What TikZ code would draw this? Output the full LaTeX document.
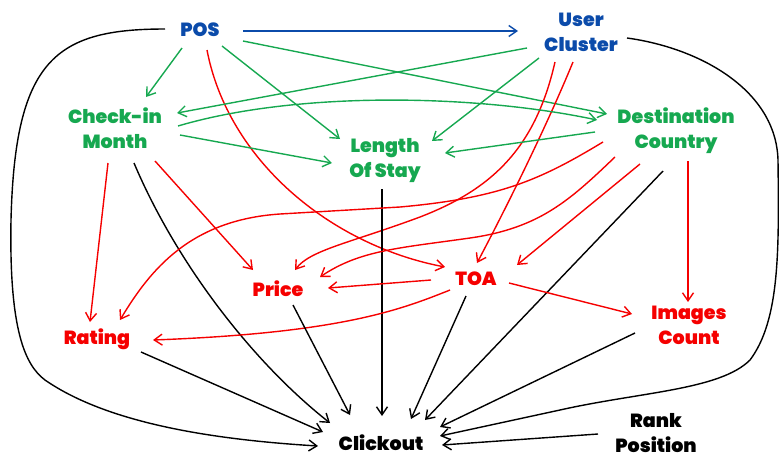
\documentclass[tikz,border=0pt]{standalone}
\usepackage{fontspec}
\setmainfont{Poppins}[BoldFont={Poppins Black}]
\usetikzlibrary{arrows.meta,calc}
\definecolor{posblue}{RGB}{11,75,170}
\definecolor{vargreen}{RGB}{22,168,80}
\definecolor{varred}{RGB}{245,0,0}
\tikzset{
  lbl/.style={font=\fontsize{19}{25}\selectfont\bfseries, align=center, inner sep=0pt},
  bluelbl/.style={lbl, text=posblue},
  greenlbl/.style={lbl, text=vargreen},
  redlbl/.style={lbl, text=varred},
  blacklbl/.style={lbl, text=black},
  link/.style={line width=1.4pt, -{Straight Barb[length=8pt,width=11pt,line width=1.4pt]}},
  bluelink/.style={link, draw=posblue},
  greenlink/.style={link, draw=vargreen},
  redlink/.style={link, draw=varred},
  blacklink/.style={link, draw=black},
}
\begin{document}
\begin{tikzpicture}[x=1pt,y=-1pt]
\useasboundingbox (0,0) rectangle (779,456);

% variables
\node[bluelbl]  (pos)    at (200,30)  {POS};
\node[bluelbl]  (uc)     at (581,32)  {User\\Cluster};
\node[greenlbl] (cim)    at (115,128) {Check-in\\Month};
\node[greenlbl] (los)    at (385,161) {Length\\Of Stay};
\node[greenlbl] (dc)     at (676,131) {Destination\\Country};
\node[redlbl]   (price)  at (278,289) {Price};
\node[redlbl]   (toa)    at (476,279) {TOA};
\node[redlbl]   (rating) at (97,339)  {Rating};
\node[redlbl]   (img)    at (689,325) {Images\\Count};
\node[blacklbl] (click)  at (381,443) {Clickout};
\node[blacklbl] (rank)   at (656,433) {Rank\\Position};

% POS
\draw[bluelink]  ($(pos)+(43,1)$) -- ($(uc)+(-63,-1)$);
\draw[greenlink] ($(pos)+(-18,18)$) -- ($(cim)+(31,-31)$);
\draw[greenlink] ($(pos)+(22,16)$) -- ($(los)+(-45,-22)$);
\draw[greenlink] ($(pos)+(43,11)$) -- ($(dc)+(-69,-17)$);
\draw[redlink]   ($(pos)+(7,20)$) .. controls (228,160) and (330,245) .. ($(toa)+(-31,-12)$);
\draw[blacklink] ($(pos)+(-35,-1)$) .. controls (55,29) and (15,60) .. (11,220)
                 .. controls (9,330) and (25,365) .. (45,380)
                 .. controls (110,425) and (220,440) .. ($(click)+(-63,3)$);

% User Cluster
\draw[greenlink] ($(uc)+(-54,16)$) -- ($(cim)+(62,-15)$);
\draw[greenlink] ($(uc)+(-42,26)$) -- ($(los)+(47,-20)$);
\draw[redlink]   ($(uc)+(-26,30)$) .. controls (535,150) and (490,190) .. (420,217)
                 .. controls (350,243) and (310,250) .. ($(price)+(17,-19)$);
\draw[redlink]   ($(uc)+(-8,30)$) .. controls (545,130) and (505,210) .. ($(toa)+(1,-16)$);
\draw[blacklink] ($(uc)+(46,6)$) .. controls (700,48) and (776,90) .. (778,160)
                 .. controls (779,250) and (780,320) .. (750,360)
                 .. controls (720,390) and (640,392) .. (560,410)
                 -- ($(click)+(59,-7)$);

% Check-in Month
\draw[greenlink] ($(cim)+(63,-2)$) .. controls (300,90) and (480,95) .. ($(dc)+(-79,-11)$);
\draw[greenlink] ($(cim)+(65,7)$) -- ($(los)+(-53,2)$);
\draw[redlink]   ($(cim)+(-7,35)$) -- ($(rating)+(-7,-17)$);
\draw[redlink]   ($(cim)+(40,33)$) -- ($(price)+(-25,-19)$);
\draw[blacklink] ($(cim)+(19,35)$) .. controls (175,260) and (250,360) .. ($(click)+(-51,-20)$);

% Length Of Stay
\draw[blacklink] ($(los)+(-3,28)$) -- ($(click)+(1,-27)$);

% Destination Country
\draw[greenlink] ($(dc)+(-81,1)$) -- ($(los)+(60,-8)$);
\draw[redlink]   ($(dc)+(-73,11)$) .. controls (540,180) and (500,198) .. (400,207)
                 -- (280,214)
                 .. controls (190,220) and (150,270) .. ($(rating)+(23,-19)$);
\draw[redlink]   ($(dc)+(-61,26)$) .. controls (570,200) and (540,228) .. (470,238)
                 .. controls (400,248) and (360,250) .. ($(price)+(42,-12)$);
\draw[redlink]   ($(dc)+(-36,33)$) -- ($(toa)+(41,-14)$);
\draw[redlink]   ($(dc)+(12,30)$) -- ($(img)+(-1,-23)$);
\draw[blacklink] ($(dc)+(-13,40)$) -- ($(click)+(44,-23)$);

% TOA
\draw[redlink]   ($(toa)+(-45,1)$) -- ($(price)+(50,-1)$);
\draw[redlink]   ($(toa)+(-26,11)$) .. controls (400,310) and (340,333) .. ($(rating)+(56,1)$);
\draw[redlink]   ($(toa)+(33,4)$) -- ($(img)+(-57,-11)$);
\draw[blacklink] ($(toa)+(-10,17)$) -- ($(click)+(30,-24)$);

% remaining causes of a clickout
\draw[blacklink] ($(price)+(15,16)$) -- ($(click)+(-31,-28)$);
\draw[blacklink] ($(rating)+(44,13)$) -- ($(click)+(-58,-11)$);
\draw[blacklink] ($(img)+(-54,8)$) -- ($(click)+(59,-16)$);
\draw[blacklink] ($(rank)+(-58,1)$) -- ($(click)+(61,2)$);
\end{tikzpicture}
\end{document}
